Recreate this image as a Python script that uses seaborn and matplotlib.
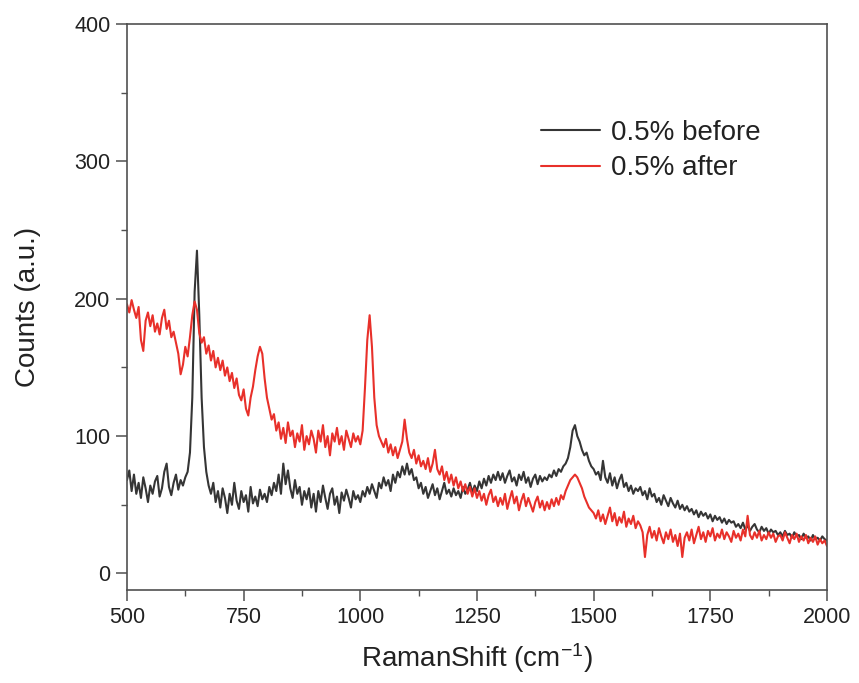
import numpy as np
import pandas as pd
import matplotlib
matplotlib.use("Agg")
import matplotlib.pyplot as plt
from matplotlib.ticker import MultipleLocator
import seaborn as sns

# Raman shift grid (cm^-1), 5 cm^-1 sampling
raman_shift = np.arange(500, 2001, 5)

# "0.5% before" counts (one row per 100 cm^-1)
before_counts = [
    68, 75, 60, 72, 58, 66, 55, 70, 62, 52, 64, 58, 67, 71, 56, 62, 74, 80, 63, 57,
    66, 72, 61, 68, 64, 70, 74, 88, 128, 205, 235, 188, 128, 92, 74, 64, 58, 66, 52, 60,
    48, 62, 55, 44, 58, 50, 66, 53, 47, 60, 52, 57, 45, 63, 51, 56, 49, 61, 54, 58,
    52, 63, 57, 66, 60, 72, 58, 80, 65, 75, 62, 55, 68, 58, 63, 50, 60, 54, 62, 48,
    58, 45, 60, 52, 64, 55, 47, 58, 62, 50, 56, 44, 59, 53, 61, 55, 48, 60, 54, 57,
    52, 60, 56, 63, 58, 65, 60, 55, 66, 62, 70, 64, 68, 60, 72, 66, 74, 70, 78, 72,
    80, 72, 76, 68, 70, 62, 66, 58, 63, 55, 60, 65, 57, 62, 54, 60, 66, 58, 61, 56,
    62, 57, 60, 55, 63, 58, 61, 66, 59, 64, 60, 67, 62, 69, 64, 71, 66, 72, 68, 74,
    68, 73, 66, 71, 75, 67, 70, 64, 72, 68, 74, 66, 70, 63, 69, 72, 65, 71, 67, 70,
    68, 72, 70, 75, 71, 76, 74, 78, 80, 84, 92, 104, 108, 100, 96, 90, 86, 88, 82, 78,
    76, 72, 74, 68, 82, 70, 66, 73, 64, 70, 62, 68, 72, 63, 66, 60, 64, 58, 62, 60,
    63, 57, 60, 54, 62, 56, 58, 52, 55, 50, 57, 53, 49, 55, 51, 48, 53, 47, 50, 46,
    49, 45, 47, 43, 46, 41, 45, 42, 44, 40, 43, 38, 42, 39, 41, 37, 40, 36, 39, 37,
    38, 34, 36, 33, 37, 32, 35, 31, 34, 36, 32, 30, 34, 31, 33, 29, 32, 30, 31, 28,
    30, 27, 31, 28, 29, 26, 30, 27, 28, 25, 29, 26, 27, 24, 28, 25, 26, 24, 27, 25,
    24,
]

# "0.5% after" counts (one row per 100 cm^-1)
after_counts = [
    196, 190, 199, 192, 186, 194, 170, 162, 184, 190, 180, 188, 176, 182, 174, 186, 192, 178, 184, 172,
    176, 168, 160, 145, 152, 165, 158, 172, 188, 198, 192, 175, 168, 172, 160, 166, 155, 162, 150, 157,
    148, 155, 144, 150, 140, 146, 135, 142, 130, 126, 134, 120, 115, 128, 136, 148, 158, 165, 160, 142,
    128, 120, 112, 116, 104, 110, 98, 106, 95, 110, 100, 104, 92, 102, 96, 108, 90, 100, 94, 104,
    98, 88, 104, 96, 108, 92, 100, 86, 102, 96, 106, 94, 100, 90, 104, 98, 92, 102, 96, 100,
    94, 104, 135, 170, 188, 165, 128, 108, 100, 96, 92, 98, 88, 94, 86, 92, 84, 90, 96, 112,
    98, 88, 84, 90, 80, 86, 78, 82, 76, 84, 74, 80, 90, 76, 72, 78, 68, 74, 66, 72,
    64, 70, 62, 67, 60, 65, 58, 63, 56, 62, 55, 60, 53, 58, 50, 57, 61, 52, 56, 49,
    55, 50, 58, 47, 54, 60, 51, 56, 46, 53, 58, 49, 55, 50, 45, 52, 56, 48, 53, 46,
    52, 47, 54, 49, 55, 50, 57, 54, 60, 64, 68, 70, 72, 70, 66, 62, 56, 52, 48, 46,
    44, 40, 46, 38, 43, 36, 42, 48, 38, 44, 35, 41, 37, 45, 34, 40, 36, 42, 33, 38,
    35, 30, 12, 28, 34, 26, 31, 24, 33, 27, 22, 30, 25, 32, 23, 28, 20, 29, 12, 26,
    30, 24, 32, 22, 28, 34, 25, 30, 23, 31, 27, 33, 24, 29, 26, 32, 25, 30, 27, 23,
    31, 26, 29, 24, 32, 27, 42, 28, 25, 30, 26, 31, 24, 28, 25, 30, 26, 29, 23, 27,
    28, 24, 30, 26, 22, 28, 25, 29, 23, 27, 24, 28, 22, 26, 23, 27, 21, 25, 22, 24,
    20,
]

series_labels = ["0.5% before", "0.5% after"]
x_ticks = [500, 750, 1000, 1250, 1500, 1750, 2000]
y_ticks = [0, 100, 200, 300, 400]

df = pd.concat([
    pd.DataFrame({"shift": raman_shift, "counts": before_counts, "sample": series_labels[0]}),
    pd.DataFrame({"shift": raman_shift, "counts": after_counts, "sample": series_labels[1]}),
])

sns.set_theme(style="ticks")
plt.rcParams["font.family"] = ["Liberation Sans", "DejaVu Sans"]
plt.rcParams["mathtext.fontset"] = "custom"
plt.rcParams["mathtext.rm"] = "Liberation Sans"
plt.rcParams["mathtext.it"] = "Liberation Sans:italic"

fig = plt.figure(figsize=(8.59, 6.83), dpi=100)
ax = fig.add_axes([0.1478, 0.1362, 0.8149, 0.8287])

palette = {series_labels[0]: "#353535", series_labels[1]: "#e8302a"}
sns.lineplot(data=df, x="shift", y="counts", hue="sample", palette=palette,
             estimator=None, sort=False, linewidth=1.5, ax=ax, legend=True)

ax.set_xlim(500, 2000)
ax.set_ylim(-12, 400)
ax.set_xticks(x_ticks)
ax.set_yticks(y_ticks)
ax.xaxis.set_minor_locator(MultipleLocator(125))
ax.yaxis.set_minor_locator(MultipleLocator(50))

spine_color = "#505050"
for s in ax.spines.values():
    s.set_visible(True)
    s.set_color(spine_color)
    s.set_linewidth(1.2)

ax.tick_params(axis="both", which="major", direction="out", length=8, width=1.1,
               color=spine_color, labelsize=15.5, labelcolor="#222222", pad=4)
ax.tick_params(axis="both", which="minor", direction="out", length=4, width=1.0,
               color=spine_color)
ax.tick_params(top=False, right=False, which="both")

ax.set_xlabel(r"RamanShift (cm$^{\mathrm{-1}}$)", fontsize=20, color="#222222", labelpad=10)
ax.set_ylabel("Counts (a.u.)", fontsize=20, color="#222222", labelpad=24)

handles, labels = ax.get_legend_handles_labels()
leg = ax.legend(handles, labels, loc="upper left", bbox_to_anchor=(0.592, 0.83),
                frameon=False, fontsize=20, handlelength=2.1, handletextpad=0.4,
                labelspacing=0.33, borderpad=0, borderaxespad=0)
for t in leg.get_texts():
    t.set_color("#222222")
for h in leg.get_lines():
    h.set_linewidth(1.5)

fig.savefig("out.png", dpi=100)
